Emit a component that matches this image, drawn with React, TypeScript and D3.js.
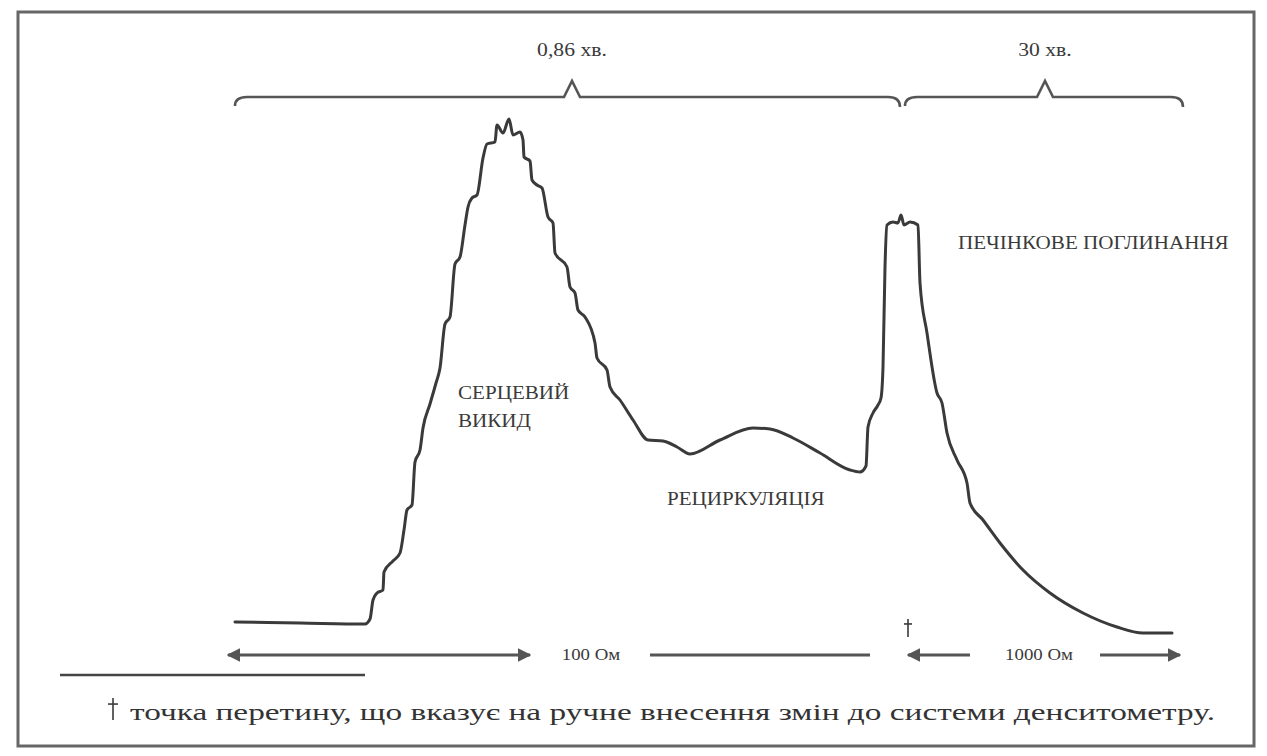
import React, { useEffect, useRef } from "react";
import * as d3 from "d3";

// time (t) and densitometer signal (v)
const traceTime = [
  0, 65, 130, 135, 138, 142, 148, 149, 158, 165, 169, 172, 177, 180, 185, 188,
  195, 201, 205, 210, 215, 220, 225, 230, 233, 237, 242, 248, 252, 260, 262,
  268, 274, 278, 285, 288, 289, 295, 297, 302, 307, 313, 318, 320, 332, 335,
  340, 343, 350, 360, 362, 372, 375, 385, 398, 413, 428, 442, 455, 485, 518,
  535, 558, 585, 615, 625, 631, 633, 638, 643, 646, 648, 650, 652, 658, 663,
  666, 669, 675, 683, 685, 692, 702, 707, 712, 722, 732, 735, 748, 765, 788,
  815, 848, 882, 908, 937
];
const traceValue = [
  3, 2, 1, 6, 25, 32, 35, 53, 64, 72, 95, 115, 120, 163, 175, 197, 221, 242,
  257, 301, 308, 361, 368, 400, 418, 427, 430, 467, 481, 483, 500, 492, 506,
  490, 493, 485, 468, 464, 445, 440, 437, 408, 402, 372, 358, 338, 332, 315,
  308, 282, 267, 255, 238, 225, 205, 185, 184, 178, 171, 185, 197, 196, 187,
  172, 155, 153, 159, 198, 212, 220, 227, 258, 358, 400, 403, 402, 410, 400,
  403, 400, 342, 292, 232, 222, 192, 165, 142, 122, 105, 82, 55, 32, 12, -2,
  -8, -8
];

const phaseLabels = ["0,86 хв.", "30 хв."];
const phaseStart = [0, 670];
const phaseTip = [337, 810];
const phaseEnd = [665, 948];

const stageLabels = [["СЕРЦЕВИЙ", "ВИКИД"], ["РЕЦИРКУЛЯЦІЯ"], ["ПЕЧІНКОВЕ ПОГЛИНАННЯ"]];
const stageTime = [223, 432, 723];
const stageValue = [226, 120, 376];

const scaleLabels = ["100 Ом", "1000 Ом"];
const scaleLabelTime = [356, 804];
const crossTime = 673;

const footnote =
  "точка перетину, що вказує на ручне внесення змін до системи денситометру.";

const INK = "#3a3a3a";
const FONT = "Liberation Serif, Tinos, DejaVu Serif, serif";

export default function App() {
  const ref = useRef<SVGSVGElement | null>(null);

  useEffect(() => {
    const width = 1267;
    const height = 756;
    const svg = d3.select(ref.current);
    svg.selectAll("*").remove();

    const x = d3.scaleLinear().domain([0, 937]).range([235, 1172]);
    const y = d3.scaleLinear().domain([0, 505]).range([625, 120]);

    // the scan is stretched sideways, so text is widened to match
    const widen = 1.14;
    const label = (
      s: string,
      px: number,
      py: number,
      size: number,
      anchor = "start",
      fill = INK
    ) => {
      const t = svg
        .append("text")
        .attr("x", px)
        .attr("y", py)
        .attr("text-anchor", anchor)
        .attr("font-family", FONT)
        .attr("font-size", size)
        .attr("fill", fill)
        .text(s);
      const w = (t.node() as SVGTextElement).getComputedTextLength();
      t.attr("textLength", w * widen).attr("lengthAdjust", "spacingAndGlyphs");
      return t;
    };

    const defs = svg.append("defs");
    defs
      .append("marker")
      .attr("id", "head")
      .attr("viewBox", "0 0 10 10")
      .attr("refX", 9)
      .attr("refY", 5)
      .attr("markerWidth", 4.2)
      .attr("markerHeight", 4.2)
      .attr("orient", "auto-start-reverse")
      .append("path")
      .attr("d", "M0,0 L10,5 L0,10 Z")
      .attr("fill", "#555");

    svg
      .append("rect")
      .attr("width", width)
      .attr("height", height)
      .attr("fill", "#fff");

    // frame
    svg
      .append("rect")
      .attr("x", 18)
      .attr("y", 12)
      .attr("width", 1236)
      .attr("height", 734)
      .attr("fill", "none")
      .attr("stroke", "#666")
      .attr("stroke-width", 3);

    // dagger glyph drawn as two strokes (font glyph renders oddly)
    const dagger = (cx: number, cy: number, s: number) => {
      const g = svg.append("g").attr("stroke", INK).attr("stroke-width", 1.6);
      g.append("line")
        .attr("x1", cx)
        .attr("x2", cx)
        .attr("y1", cy - s)
        .attr("y2", cy + s);
      g.append("line")
        .attr("x1", cx - s * 0.45)
        .attr("x2", cx + s * 0.45)
        .attr("y1", cy - s * 0.45)
        .attr("y2", cy - s * 0.45);
    };

    // braces
    const braceY = 97;
    const brace = (x0: number, tip: number, x1: number) => {
      const p = d3.path();
      p.moveTo(x0, braceY + 9);
      p.quadraticCurveTo(x0, braceY, x0 + 12, braceY);
      p.lineTo(tip - 8, braceY);
      p.lineTo(tip, braceY - 16);
      p.lineTo(tip + 8, braceY);
      p.lineTo(x1 - 12, braceY);
      p.quadraticCurveTo(x1, braceY, x1, braceY + 10);
      return p.toString();
    };
    phaseLabels.forEach((s, i) => {
      svg
        .append("path")
        .attr("d", brace(x(phaseStart[i]), x(phaseTip[i]), x(phaseEnd[i])))
        .attr("fill", "none")
        .attr("stroke", "#555")
        .attr("stroke-width", 2.6)
        .attr("stroke-linejoin", "miter");
      label(s, x(phaseTip[i]), 56, 19, "middle");
    });

    // trace
    const points = traceTime.map((t, i) => [t, traceValue[i]] as [number, number]);
    const line = d3
      .line<[number, number]>()
      .x(d => x(d[0]))
      .y(d => y(d[1]))
      .curve(d3.curveMonotoneX);
    svg
      .append("path")
      .attr("d", line(points))
      .attr("fill", "none")
      .attr("stroke", INK)
      .attr("stroke-width", 3)
      .attr("stroke-linejoin", "round")
      .attr("stroke-linecap", "round");

    // stage labels
    stageLabels.forEach((lines, i) => {
      lines.forEach((s, j) => {
        label(s, x(stageTime[i]), y(stageValue[i]) + j * 28, 18.5);
      });
    });

    // resistance scale arrows
    const arrowY = 655;
    const seg = (t0: number, t1: number, startHead: boolean, endHead: boolean) => {
      const l = svg
        .append("line")
        .attr("x1", x(t0))
        .attr("x2", x(t1))
        .attr("y1", arrowY)
        .attr("y2", arrowY)
        .attr("stroke", "#555")
        .attr("stroke-width", 3.2);
      if (startHead) l.attr("marker-start", "url(#head)");
      if (endHead) l.attr("marker-end", "url(#head)");
    };
    seg(-7, 295, true, true);
    seg(415, 635, false, false);
    seg(735, crossTime, false, true);
    seg(865, 945, false, true);

    scaleLabels.forEach((s, i) => {
      label(s, x(scaleLabelTime[i]), arrowY + 5, 16.5, "middle");
    });
    dagger(x(crossTime), 628, 9);

    // footnote
    svg
      .append("line")
      .attr("x1", 60)
      .attr("x2", 365)
      .attr("y1", 675)
      .attr("y2", 675)
      .attr("stroke", "#444")
      .attr("stroke-width", 2.5);
    dagger(113, 709, 11);
    svg
      .append("text")
      .attr("x", 130)
      .attr("y", 720)
      .attr("font-family", FONT)
      .attr("font-size", 23.5)
      .attr("fill", "#333")
      .attr("textLength", 1085)
      .attr("lengthAdjust", "spacingAndGlyphs")
      .text(footnote);
  }, []);

  return (
    <svg
      ref={ref}
      width={1267}
      height={756}
      style={{ position: "fixed", left: 0, top: 0 }}
    />
  );
}
